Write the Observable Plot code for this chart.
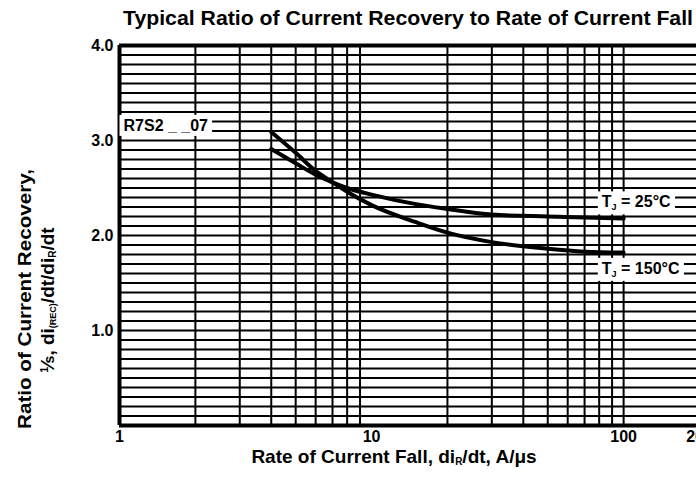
<!DOCTYPE html>
<html><head><meta charset="utf-8">
<script src="https://cdn.jsdelivr.net/npm/d3@7"></script>
<script src="https://cdn.jsdelivr.net/npm/@observablehq/plot@0.6"></script>
<style>
html,body{margin:0;padding:0;background:#fff;overflow:hidden;width:696px;height:480px;}
#chart{position:absolute;left:0;top:0;width:720px;height:480px;}
#chart svg{max-width:none !important;width:720px;height:480px;}
</style></head><body><div id="chart"></div>
<script>
// ---- data ----
const rate      = [4, 5, 6, 7, 8, 10, 15, 20, 30, 50, 70, 100];
const ratio25   = [2.91, 2.76, 2.64, 2.56, 2.50, 2.43, 2.33, 2.28, 2.22, 2.20, 2.19, 2.18];
const ratio150  = [3.09, 2.87, 2.68, 2.56, 2.46, 2.32, 2.14, 2.03, 1.93, 1.86, 1.83, 1.82];
const xTicks = [1, 10, 100, 200];
const yTicks = [1, 2, 3, 4];
const xGrid = [2, 3, 4, 5, 6, 7, 8, 9, 20, 30, 40, 50, 60, 70, 80, 90, 100];
const yGrid = [0.1,0.2,0.3,0.4,0.5,0.6,0.7,0.8,0.9,1.0,1.1,1.2,1.3,1.4,1.5,1.6,1.7,1.8,1.9,2.0,
               2.1,2.2,2.3,2.4,2.5,2.6,2.7,2.8,2.9,3.0,3.1,3.2,3.3,3.4,3.5,3.6,3.7,3.8,3.9];
const labelText = ["R7S2 _ _07", "TJ = 25°C", "TJ = 150°C"];
const labelX    = [1, 79, 79];
const labelY    = [3.155, 2.35, 1.65];
const title  = "Typical Ratio of Current Recovery to Rate of Current Fall";
const yTitle1 = "Ratio of Current Recovery,";

const series = [
  ...rate.map((x, i) => ({x, y: ratio25[i], s: "25"})),
  ...rate.map((x, i) => ({x, y: ratio150[i], s: "150"}))
];
const labels = labelText.map((t, i) => ({t, x: labelX[i], y: labelY[i]}));

const FONT = "'Liberation Sans', Arial, Helvetica, sans-serif";

const svg = Plot.plot({
  width: 720, height: 480,
  marginTop: 45, marginBottom: 55, marginLeft: 119, marginRight: 21,
  style: {fontFamily: FONT, background: "white", color: "black", overflow: "visible"},
  x: {type: "log", domain: [1, 200]},
  y: {domain: [0, 4]},
  marks: [
    Plot.ruleX(xGrid, {stroke: "black", strokeWidth: 2}),
    Plot.ruleY(yGrid, {stroke: "black", strokeWidth: 2}),
    Plot.ruleY([0, 4], {stroke: "black", strokeWidth: 4}),
    Plot.ruleX([1, 200], {stroke: "black", strokeWidth: 4}),
    Plot.line(series, {x: "x", y: "y", z: "s", curve: "monotone-x", stroke: "black", strokeWidth: 4}),
    Plot.text(labels, {x: "x", y: "y", text: "t", textAnchor: "start", dx: 4, fontSize: 16, fontWeight: "bold", fill: "black"}),
    Plot.axisX({ticks: xTicks, tickFormat: d => String(d), tickSize: 0, tickPadding: 5, fontSize: 16, fontWeight: "bold", label: null}),
    Plot.axisY({ticks: yTicks, tickFormat: d => d.toFixed(1), tickSize: 0, tickPadding: 6, fontSize: 16, fontWeight: "bold", label: null})
  ]
});
svg.style.maxWidth = "none";
document.getElementById("chart").appendChild(svg);

const S = d3.select(svg);

// label backgrounds and subscripts
S.selectAll('g[aria-label="text"] text').each(function() {
  const el = d3.select(this);
  const t = this.textContent;
  if (t.startsWith("TJ")) {
    el.text(null);
    el.append("tspan").text("T");
    el.append("tspan").attr("font-size", 9).attr("dy", 3).text("J");
    el.append("tspan").attr("dy", -3).text(t.slice(2));
  }
});
S.selectAll('g[aria-label="text"] text').each(function() {
  const b = this.getBBox();
  const g = this.parentNode;
  const tr = this.getAttribute("transform");
  const r = document.createElementNS("http://www.w3.org/2000/svg", "rect");
  r.setAttribute("x", b.x - 4);
  r.setAttribute("y", b.y - 2);
  r.setAttribute("width", b.width + 8);
  r.setAttribute("height", b.height + 4);
  r.setAttribute("fill", "white");
  if (tr) r.setAttribute("transform", tr);
  g.insertBefore(r, this);
});

// title
S.append("text")
  .attr("x", 123).attr("y", 25)
  .attr("text-anchor", "start")
  .attr("font-family", FONT).attr("font-weight", "bold").attr("font-size", 21)
  .attr("textLength", 570).attr("lengthAdjust", "spacingAndGlyphs")
  .text(title);

// y title, line 1
S.append("text")
  .attr("transform", "translate(31,299) rotate(-90)")
  .attr("text-anchor", "middle")
  .attr("font-family", FONT).attr("font-weight", "bold").attr("font-size", 19)
  .attr("textLength", 260).attr("lengthAdjust", "spacingAndGlyphs")
  .text(yTitle1);

// y title, line 2
const y2 = S.append("text")
  .attr("transform", "translate(54,300) rotate(-90)")
  .attr("text-anchor", "middle")
  .attr("font-family", FONT).attr("font-weight", "bold").attr("font-size", 19);
y2.append("tspan").attr("font-size", 11).attr("dy", -6).text("1");
y2.append("tspan").attr("dy", 6).text("⁄");
y2.append("tspan").attr("font-size", 14).text("s");
y2.append("tspan").text(", di");
y2.append("tspan").attr("font-size", 9).attr("dy", 2).text("(REC)");
y2.append("tspan").attr("dy", -2).text("/dt/di");
y2.append("tspan").attr("font-size", 10).attr("dy", 2).text("R");
y2.append("tspan").attr("dy", -2).text("/dt");

// x title
const xt = S.append("text")
  .attr("x", 394).attr("y", 463)
  .attr("text-anchor", "middle")
  .attr("font-family", FONT).attr("font-weight", "bold").attr("font-size", 19);
xt.append("tspan").text("Rate of Current Fall, di");
xt.append("tspan").attr("font-size", 10).attr("dy", 2).text("R");
xt.append("tspan").attr("dy", -2).text("/dt, A/μs");
</script></body></html>
